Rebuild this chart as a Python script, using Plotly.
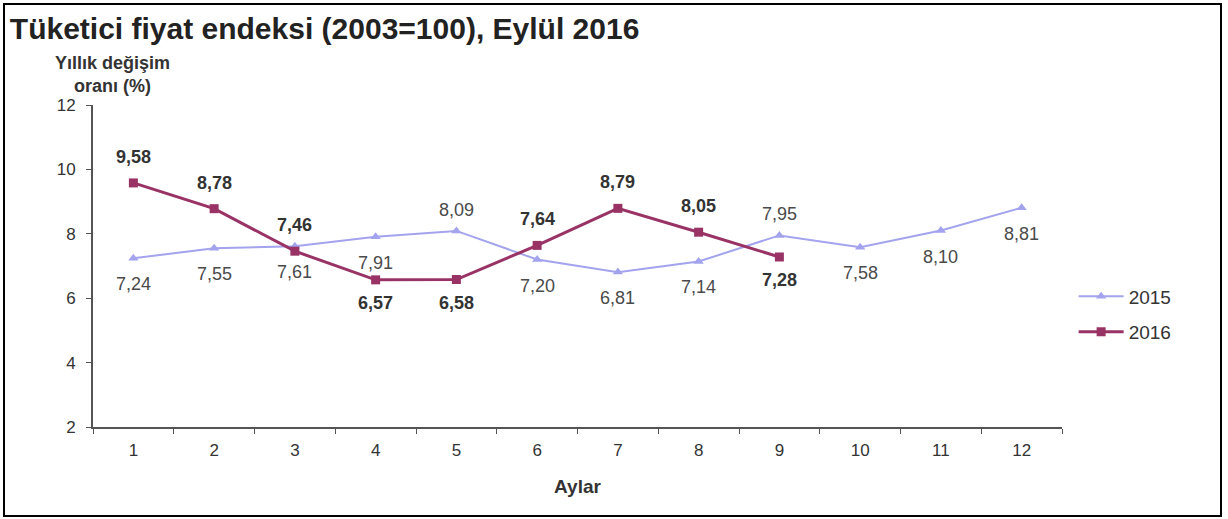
import plotly.graph_objects as go

months = [str(m) for m in range(1, 13)]
cpi_2015 = [7.24, 7.55, 7.61, 7.91, 8.09, 7.20, 6.81, 7.14, 7.95, 7.58, 8.10, 8.81]
cpi_2016 = [9.58, 8.78, 7.46, 6.57, 6.58, 7.64, 8.79, 8.05, 7.28]
y_ticks = [2, 4, 6, 8, 10, 12]

# label above (True) or below (False) the point
side_2015 = [False, False, False, False, True, False, False, False, True, False, False, False]
side_2016 = [True, True, True, False, False, True, True, True, False]

FONT = "Liberation Sans, Arial, sans-serif"
C2015 = "#a3a3ee"
C2016 = "#993366"

def fmt(v):
    return f"{v:.2f}".replace(".", ",")

fig = go.Figure()
fig.add_trace(go.Scatter(
    x=months, y=cpi_2015, name="2015", mode="lines+markers", legendgroup="a",
    line=dict(color=C2015, width=2),
    marker=dict(symbol="triangle-up", size=9, color=C2015)
))
fig.add_trace(go.Scatter(
    x=months[:len(cpi_2016)], y=cpi_2016, name="2016", mode="lines+markers", legendgroup="b",
    line=dict(color=C2016, width=3),
    marker=dict(symbol="square", size=9, color=C2016)
))

annotations = []
# category axis: annotations use the category index
for i, (v, up) in enumerate(zip(cpi_2015, side_2015)):
    annotations.append(dict(x=i, y=v, text=fmt(v), showarrow=False,
                            yshift=21 if up else -26,
                            font=dict(family=FONT, size=18, color="#4a4a4a")))
for i, (v, up) in enumerate(zip(cpi_2016, side_2016)):
    annotations.append(dict(x=i, y=v, text="<b>" + fmt(v) + "</b>", showarrow=False,
                            yshift=26 if up else -23,
                            font=dict(family=FONT, size=18, color="#333333")))

annotations.append(dict(xref="paper", yref="paper", x=0.02, y=1.096, xanchor="center",
                        yanchor="middle",
                        text="<b>Yıllık değişim<br>oranı (%)</b>", showarrow=False, align="center",
                        font=dict(family=FONT, size=18, color="#333333")))

fig.update_layout(
    width=1228, height=519,
    margin=dict(l=93, r=166, t=105, b=92),
    paper_bgcolor="white", plot_bgcolor="white",
    title=dict(text="Tüketici fiyat endeksi (2003=100), Eylül 2016",
               x=0.008, xanchor="left", y=0.946, yanchor="middle",
               font=dict(family=FONT, size=30, color="#222222", weight="bold")),
    font=dict(family=FONT, size=17, color="#333333"),
    xaxis=dict(type="category", showgrid=False, showline=True, linecolor="#555555", linewidth=2,
               ticks="outside", ticklen=5, tickcolor="#555555", tickson="boundaries",
               title=dict(text="<b>Aylar</b>", font=dict(size=19), standoff=20),
               range=[-0.5, 11.5], zeroline=False, ticklabelstandoff=7),
    yaxis=dict(range=[2, 12], tickvals=y_ticks, showgrid=False, showline=True,
               linecolor="#555555", linewidth=2, ticks="outside", ticklen=5,
               tickcolor="#555555", zeroline=False, ticklabelstandoff=7),
    legend=dict(x=1.012, xanchor="left", y=0.35, yanchor="middle",
                font=dict(family=FONT, size=19, color="#333333"),
                traceorder="grouped", tracegroupgap=8, itemwidth=45),
    annotations=annotations,
    shapes=[dict(type="rect", xref="paper", yref="paper",
                 x0=(4 - 93) / 969, x1=(1221 - 93) / 969,
                 y0=(427 - 516) / 322, y1=(427 - 4) / 322,
                 line=dict(color="black", width=2))],
)

fig.write_html("out.html", config={"displayModeBar": False},
               post_script="document.body.style.margin='0';")
